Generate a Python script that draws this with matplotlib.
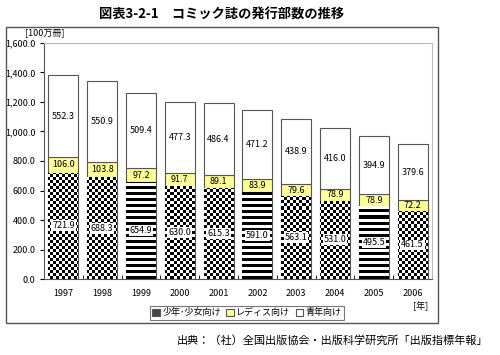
import numpy as np
import matplotlib
matplotlib.use("Agg")
import matplotlib.pyplot as plt
from matplotlib.patches import Rectangle
from matplotlib.ticker import FuncFormatter

plt.rcParams['font.family'] = ['Noto Sans CJK JP', 'DejaVu Sans']

# données (100万冊)
annees = ["1997", "1998", "1999", "2000", "2001", "2002", "2003", "2004", "2005", "2006"]
shojo = [721.9, 688.3, 654.9, 630.0, 615.3, 591.0, 563.1, 531.0, 495.5, 461.5]
ladies = [106.0, 103.8, 97.2, 91.7, 89.1, 83.9, 79.6, 78.9, 78.9, 72.2]
seinen = [552.3, 550.9, 509.4, 477.3, 486.4, 471.2, 438.9, 416.0, 394.9, 379.6]
rayures = ["1999", "2002", "2005"]  # barres à motif rayé

fig = plt.figure(figsize=(5, 3.55), dpi=100)

# cadre extérieur
fig.patches.append(Rectangle((6 / 500, 1 - 323 / 355), 432 / 500, 296 / 355,
                             transform=fig.transFigure, fill=False,
                             edgecolor="#555555", linewidth=1.0))

ax = fig.add_axes([0.088, 0.214, 0.776, 0.665])
x = np.arange(len(annees))
w = 0.77

b1 = ax.bar(x, shojo, w, color="#444444", edgecolor="#555555", linewidth=0.8,
            label="少年･少女向け", zorder=2)
b2 = ax.bar(x, ladies, w, bottom=shojo, color="#FFFF99", edgecolor="#555555",
            linewidth=0.8, label="レディス向け", zorder=2)
bas = np.array(shojo) + np.array(ladies)
b3 = ax.bar(x, seinen, w, bottom=bas, color="white", edgecolor="#555555",
            linewidth=0.8, label="青年向け", zorder=2)

# motifs : damier / rayures (cellules de ~3 px)
nr, nc = 79, 129
ii, jj = np.mgrid[0:nr, 0:nc]
damier = ((ii + jj) % 2).astype(float)
raies = (ii % 2).astype(float)
for annee, rect in zip(annees, b1.patches):
    motif = raies if annee in rayures else damier
    im = ax.imshow(motif, cmap="gray", vmin=0, vmax=1, extent=[-0.5, 9.5, 0, 1600],
                   interpolation="none", aspect="auto", zorder=2.5)
    im.set_clip_path(rect)
ax.set_xlim(-0.5, 9.5)
ax.set_ylim(0, 1600)

# étiquettes
for i in range(len(annees)):
    ax.text(x[i], shojo[i] / 2, f"{shojo[i]:.1f}", ha="center", va="center",
            fontsize=6.5, zorder=4,
            bbox=dict(boxstyle="square,pad=0.1", fc="white", ec="none"))
    ax.text(x[i], shojo[i] + ladies[i] / 2, f"{ladies[i]:.1f}", ha="center",
            va="center", fontsize=6.5, zorder=4)
    ax.text(x[i], bas[i] + seinen[i] / 2, f"{seinen[i]:.1f}", ha="center",
            va="center", fontsize=6.5, zorder=4)

ax.set_xticks(x)
ax.set_xticklabels(annees, fontsize=6.5)
ax.set_xticks(x[:-1] + 0.5, minor=True)
ax.tick_params(axis="x", which="major", length=0, pad=7)
ax.tick_params(axis="x", which="minor", length=3, direction="in")
ax.set_yticks(np.arange(0, 1601, 200))
ax.yaxis.set_major_formatter(FuncFormatter(lambda v, p: f"{v:,.1f}"))
ax.tick_params(axis="y", labelsize=6.5, length=3, pad=3)

for s in ["top", "right"]:
    ax.spines[s].set_color("#bbbbbb")
ax.spines["left"].set_color("#555555")
ax.spines["bottom"].set_color("#555555")

fig.text(25 / 500, 1 - 33 / 355, "[100万冊]", fontsize=6.5, ha="left", va="center")
fig.text(428 / 500, 1 - 306 / 355, "[年]", fontsize=6.5, ha="right", va="center")

leg = ax.legend(handles=[b1, b2, b3], loc="center", ncol=3,
                bbox_to_anchor=(247 / 500, 1 - 313 / 355),
                bbox_transform=fig.transFigure, fontsize=6.5, frameon=True,
                fancybox=False, edgecolor="#555555", handlelength=0.8,
                handleheight=0.8, handletextpad=0.3, columnspacing=0.6,
                borderpad=0.3)
leg.get_frame().set_linewidth(0.8)

fig.text(222 / 500, 1 - 15 / 355, "図表3-2-1　コミック誌の発行部数の推移",
         fontsize=9.5, fontweight="bold", ha="center", va="center")
fig.text(488 / 500, 1 - 341 / 355, "出典：（社）全国出版協会・出版科学研究所「出版指標年報」",
         fontsize=8, ha="right", va="center")

plt.savefig("out.png", dpi=100)
